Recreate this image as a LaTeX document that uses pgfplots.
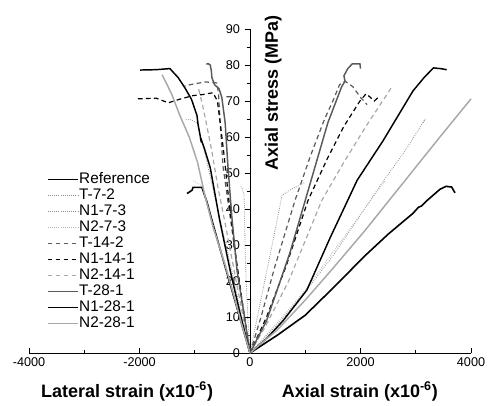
\documentclass[border=0pt]{standalone}
\usepackage{fontspec}
\setmainfont{Liberation Sans}
\usepackage{pgfplots}
\pgfplotsset{compat=1.18}

\definecolor{dkgray}{HTML}{5A5A5A}
\definecolor{ltgray}{HTML}{A8A8A8}
\definecolor{dotgray}{HTML}{8C8C8C}
\definecolor{dotlt}{HTML}{B4B4B4}

\pgfplotsset{
  refc/.style={black, line width=1.2pt},
  dot/.style={line width=0.6pt, dash pattern=on 0.6pt off 1pt},
  dsh/.style={line width=0.9pt, dash pattern=on 3.5pt off 2.5pt},
  sol/.style={line width=1.1pt},
}

\begin{document}
\begin{tikzpicture}
\begin{axis}[
  name=ax,
  scale only axis,
  width=331.5pt, height=243pt,
  xmin=-4000, xmax=4000, ymin=0, ymax=90,
  axis x line=bottom, axis y line=center,
  x axis line style={-}, y axis line style={-},
  axis line style={line width=0.7pt},
  xtick={-4000,-2000,0,2000,4000},
  minor xtick={-3000,-1000,1000,3000},
  ytick={0,10,...,90},
  minor ytick={5,15,...,85},
  xtick align=inside, ytick align=outside,
  major tick length=4pt, minor tick length=2.5pt,
  tick style={black, line width=0.6pt},
  hide obscured x ticks=false, hide obscured y ticks=false,
  scaled x ticks=false,
  /pgf/number format/assume math mode=true,
  /pgf/number format/1000 sep={},
  ticklabel style={font=\fontsize{9.5}{10}\selectfont},
  clip=false,
  no marks,
  legend cell align=left,
  legend image code/.code={\draw[#1] (0pt,0pt) -- (23pt,0pt);},
  legend style={at={(axis cs:-3680,50.2)}, anchor=north west, draw=none, fill=none,
    font=\fontsize{11.5}{12}\selectfont, inner sep=0pt, row sep=1.6pt,
    nodes={inner sep=0pt, text height=8.2pt, text depth=2.2pt},
    /tikz/every even column/.append style={column sep=3pt}},
]
% ---- axial strain (right) ----
\addplot[refc] coordinates {(0,0) (500,5) (1000,10.5) (1500,18) (2080,27) (2500,33) (2950,38.8) (3050,40.5) (3100,40.8) (3200,42.3) (3440,45.5) (3550,46.3) (3650,46.1) (3710,44.5)};
\addlegendentry{Reference}
\addplot[dot, dotgray] coordinates {(0,0) (200,15) (400,30) (580,43.8) (750,45.5) (1000,47.4)};
\addlegendentry{T-7-2}
\addplot[dot, dotgray] coordinates {(0,0) (500,8) (1000,17) (1500,27) (1810,34) (2400,47.5) (2800,56) (3170,65) (3140,64)};
\addlegendentry{N1-7-3}
\addplot[dot, dotlt] coordinates {(0,0) (500,8.5) (1000,17.5) (1500,28) (2000,38.5) (2450,48)};
\addlegendentry{N2-7-3}
\addplot[dsh, dkgray] coordinates {(0,0) (200,10) (450,24) (815,42.4) (1100,55) (1350,65) (1500,70) (1620,74.5) (1720,75.5) (1860,74) (2000,71) (2120,69)};
\addlegendentry{T-14-2}
\addplot[dsh, black] coordinates {(0,0) (300,10) (650,24) (1050,42.4) (1400,54) (1700,63) (1990,70) (2100,72) (2180,71) (2250,70) (2320,71)};
\addlegendentry{N1-14-1}
\addplot[dsh, ltgray] coordinates {(0,0) (300,8) (700,20) (1300,42.4) (1700,53) (2100,63) (2400,70) (2570,74)};
\addlegendentry{N2-14-1}
\addplot[sol, dkgray] coordinates {(0,0) (300,9) (720,27.7) (1000,42.4) (1410,64) (1660,74) (1720,75.5) (1700,77) (1770,79) (1850,80.3) (1990,80.3) (2000,79)};
\addlegendentry{T-28-1}
\addplot[sol, black] coordinates {(0,0) (300,4) (600,9) (1030,17.5) (1450,32) (1940,48) (2410,59) (2660,65.4) (2950,72.8) (3150,76.5) (3320,79.2) (3450,79) (3560,78.7)};
\addlegendentry{N1-28-1}
\addplot[sol, ltgray] coordinates {(0,0) (500,6.5) (1000,14.7) (1500,23.5) (2080,34) (2800,47.8) (3400,59.3) (4000,70.6)};
\addlegendentry{N2-28-1}
% ---- lateral strain (left) ----
\addplot[refc, forget plot] coordinates {(0,0) (-150,8) (-300,16) (-450,24) (-600,32) (-700,37.5) (-780,42) (-870,46) (-1030,46) (-1050,45.2) (-1140,44.3)};
\addplot[dot, dotgray, forget plot] coordinates {(0,0) (-40,10) (-70,20) (-90,30) (-100,40) (-110,44) (-140,45.5) (-170,46.5)};
\addplot[dot, dotgray, forget plot] coordinates {(0,0) (-150,10) (-300,21) (-450,31) (-600,41) (-750,51) (-870,59) (-960,64) (-1080,64.8) (-1180,65)};
\addplot[dot, dotlt, forget plot] coordinates {(0,0) (-150,8) (-300,16) (-450,24) (-600,32) (-750,40) (-870,46.5) (-1050,48)};
\addplot[dsh, dkgray, forget plot] coordinates {(0,0) (-120,12) (-250,26) (-380,40) (-490,52) (-540,64) (-570,72) (-600,75) (-800,75.3) (-1000,74.8) (-1180,74.2)};
\addplot[dsh, black, forget plot] coordinates {(0,0) (-120,12) (-250,26) (-380,42) (-470,55) (-540,64) (-590,70) (-670,72.3) (-850,71.8) (-1030,71.5) (-1250,70.6) (-1480,69.5) (-1700,70.8) (-2030,70.6)};
\addplot[dsh, ltgray, forget plot] coordinates {(0,0) (-150,12) (-300,24) (-450,36) (-580,46) (-690,56) (-780,63) (-860,69) (-940,74)};
\addplot[sol, dkgray, forget plot] coordinates {(0,0) (-100,10) (-235,23) (-330,38) (-400,52) (-450,64) (-510,71) (-560,73.4) (-640,74.5) (-690,76.5) (-700,78.5) (-720,80) (-760,80.4) (-790,80.2)};
\addplot[sol, black, forget plot] coordinates {(0,0) (-180,11) (-360,23) (-550,37) (-720,51.5) (-830,57) (-900,60) (-880,58.5) (-940,63.5) (-960,66) (-1060,70.5) (-1180,73.7) (-1300,76.5) (-1450,79) (-1700,78.7) (-1990,78.6)};
\addplot[sol, ltgray, forget plot] coordinates {(0,0) (-150,8) (-300,16.5) (-450,24.5) (-670,35) (-820,44) (-950,53) (-1100,60) (-1270,66) (-1420,72) (-1590,77.3)};
% ---- labels ----
\node[font=\fontsize{13.5}{15}\selectfont\bfseries, yshift=-29pt] at (axis cs:-2225,0) {Lateral strain (x10\textsuperscript{-6})};
\node[font=\fontsize{13.5}{15}\selectfont\bfseries, yshift=-29pt] at (axis cs:1990,0) {Axial strain (x10\textsuperscript{-6})};
\node[font=\fontsize{13.5}{15}\selectfont\bfseries, rotate=90] at (axis cs:420,72.3) {Axial stress (MPa)};
\end{axis}
\pgfresetboundingbox
\path[use as bounding box] ([xshift=-21.75pt,yshift=-39pt]ax.south west) rectangle ([xshift=14.25pt,yshift=21.75pt]ax.north east);
\end{tikzpicture}
\end{document}
